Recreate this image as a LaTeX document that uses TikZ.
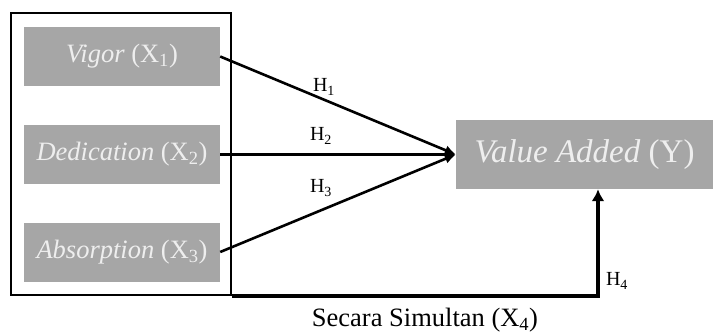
\documentclass[tikz,border=0pt]{standalone}
\usepackage{fontspec}
\setmainfont{Liberation Serif}
\usetikzlibrary{arrows.meta}
\definecolor{boxgray}{RGB}{166,166,166}
\definecolor{boxtext}{RGB}{238,238,238}
\tikzset{
  varbox/.style={fill=boxgray, draw=none, minimum width=196pt, minimum height=59pt, inner sep=0pt,
    text=boxtext, font=\fontsize{26.5}{30}\selectfont},
  ybox/.style={fill=boxgray, draw=none, minimum width=257pt, minimum height=69pt, inner sep=0pt,
    text=boxtext, font=\fontsize{33}{37}\selectfont},
  frame/.style={draw=black, line width=2pt, minimum width=220pt, minimum height=282pt, inner sep=0pt},
  conn/.style={draw=black, line width=2.6pt, -{Latex[length=11pt,width=10pt]}},
  bottomconn/.style={draw=black, line width=3.5pt, -{Latex[length=12pt,width=13pt]}},
  hlab/.style={font=\fontsize{20}{24}\selectfont, inner sep=0pt},
  caption/.style={font=\fontsize{26.5}{30}\selectfont, inner sep=0pt}
}
\begin{document}
\begin{tikzpicture}[x=1pt,y=-1pt]
\useasboundingbox (0,0) rectangle (714,335);
\node[frame] (outer) at (121,154) {};
\node[varbox] (v1) at (122,56.5) {\textit{Vigor} (X\textsubscript{1})};
\node[varbox] (v2) at (122,154.5) {\textit{Dedication} (X\textsubscript{2})};
\node[varbox] (v3) at (122,252) {\textit{Absorption} (X\textsubscript{3})};
\node[ybox] (y) at (584.5,154.5) {\textit{Value Added} (Y)};
\draw[conn] (v1.east) -- (y.west);
\draw[conn] (v2.east) -- (y.west);
\draw[conn] (v3.east) -- (y.west);
\draw[bottomconn] (outer.south east) -| ([xshift=13.5pt]y.south);
\node[hlab] (h1) at (324,87) {H\textsubscript{1}};
\node[hlab] (h2) at (321,136) {H\textsubscript{2}};
\node[hlab] (h3) at (321,188) {H\textsubscript{3}};
\node[hlab] (h4) at (617,281) {H\textsubscript{4}};
\node[caption] (cap) at (425,320) {Secara Simultan (X\textsubscript{4})};
\end{tikzpicture}
\end{document}
